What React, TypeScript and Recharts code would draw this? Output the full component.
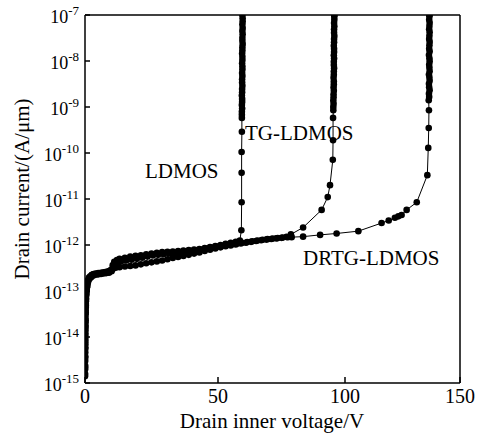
import React from "react";
import {
  LineChart,
  Line,
  XAxis,
  YAxis,
  ReferenceLine,
  Customized,
} from "recharts";

// drain current (A/um) vs drain inner voltage (V)
const ldmos: [number, number][] = [
  [0, 1.5e-15], [0.05, 2.2e-15], [0.08, 3.5e-15], [0.1, 5.5e-15], [0.12, 8e-15],
  [0.15, 1.2e-14], [0.18, 1.8e-14], [0.2, 2.6e-14], [0.25, 3.8e-14], [0.3, 5.2e-14],
  [0.35, 7e-14], [0.45, 9e-14], [0.6, 1.15e-13], [0.8, 1.4e-13], [1.1, 1.7e-13],
  [1.5, 1.95e-13], [2.0, 2.1e-13], [2.6, 2.25e-13], [3.3, 2.35e-13], [4.0, 2.4e-13],
  [5, 2.45e-13], [6, 2.5e-13], [7, 2.55e-13], [8, 2.6e-13], [9, 2.7e-13],
  [9.8, 2.9e-13], [10.4, 3.6e-13], [11, 4.3e-13], [12, 4.7e-13], [13, 5.0e-13],
  [15, 5.3e-13], [17, 5.6e-13], [19, 5.8e-13], [21, 6.0e-13], [23, 6.3e-13],
  [25, 6.5e-13], [27, 6.8e-13], [29, 7.0e-13], [31, 7.1e-13], [33, 7.2e-13],
  [35, 7.4e-13], [37, 7.6e-13], [39, 7.8e-13], [41, 8.0e-13], [43, 8.2e-13],
  [45, 8.6e-13], [47, 9.0e-13], [49, 9.5e-13], [51, 1.0e-12], [53, 1.06e-12],
  [55, 1.12e-12], [57, 1.18e-12], [58.6, 1.25e-12], [59.2, 2.1e-12], [59.3, 8.5e-12],
  [59.3, 3.7e-11], [59.3, 1.05e-10], [59.4, 2.9e-10], [59.4, 5.8e-10],
  [59.4, 6.8e-10], [59.4, 7.9e-10], [59.5, 9.3e-10], [59.4, 1.1e-9], [59.5, 1.29e-9],
  [59.5, 1.5e-9], [59.4, 1.78e-9], [59.5, 2.1e-9], [59.5, 2.45e-9], [59.6, 2.9e-9],
  [59.5, 3.4e-9], [59.5, 4.0e-9], [59.6, 4.7e-9], [59.5, 5.5e-9], [59.6, 6.5e-9],
  [59.6, 7.6e-9], [59.5, 8.9e-9], [59.6, 1.05e-8], [59.6, 1.23e-8], [59.5, 1.45e-8],
  [59.6, 1.7e-8], [59.6, 2.0e-8], [59.7, 2.35e-8], [59.6, 2.75e-8], [59.6, 3.2e-8],
  [59.7, 3.8e-8], [59.6, 4.5e-8], [59.7, 5.2e-8], [59.6, 6.2e-8], [59.7, 7.2e-8],
  [59.7, 8.5e-8], [59.6, 1.0e-7],
];

const tgLdmos: [number, number][] = [
  [0, 1.4e-15], [0.04, 2.0e-15], [0.07, 3.0e-15], [0.1, 4.6e-15], [0.13, 7e-15],
  [0.16, 1.05e-14], [0.19, 1.6e-14], [0.22, 2.3e-14], [0.27, 3.4e-14], [0.32, 4.8e-14],
  [0.38, 6.5e-14], [0.5, 8.5e-14], [0.65, 1.05e-13], [0.9, 1.3e-13], [1.2, 1.6e-13],
  [1.7, 1.85e-13], [2.3, 2.0e-13], [3.0, 2.15e-13], [4, 2.25e-13], [5, 2.3e-13],
  [6, 2.35e-13], [7, 2.4e-13], [8, 2.45e-13], [9, 2.5e-13], [10, 2.7e-13],
  [10.7, 3.1e-13], [11.5, 3.2e-13], [13, 3.3e-13], [15, 3.4e-13], [17, 3.5e-13],
  [19, 3.6e-13], [21, 3.8e-13], [23, 4.0e-13], [25, 4.2e-13], [27, 4.4e-13],
  [29, 4.6e-13], [31, 4.9e-13], [33, 5.2e-13], [35, 5.5e-13], [37, 5.8e-13],
  [39, 6.1e-13], [41, 6.5e-13], [43, 6.9e-13], [45, 7.4e-13], [47, 7.9e-13],
  [49, 8.4e-13], [51, 8.9e-13], [53, 9.4e-13], [55, 9.8e-13], [57, 1.03e-12],
  [59, 1.08e-12], [61, 1.12e-12], [63, 1.17e-12], [65, 1.22e-12], [67, 1.27e-12],
  [69, 1.31e-12], [71, 1.35e-12], [73, 1.39e-12], [75, 1.43e-12], [77, 1.5e-12],
  [78.7, 1.7e-12], [83.5, 2.4e-12], [90.8, 5.8e-12], [93.2, 1.1e-11], [94.1, 2.0e-11],
  [95.2, 7.1e-11], [95.3, 1.9e-10], [95.3, 5.8e-10],
  [95.4, 8.5e-10], [95.4, 1.0e-9], [95.5, 1.17e-9], [95.4, 1.38e-9], [95.5, 1.62e-9],
  [95.5, 1.9e-9], [95.6, 2.25e-9], [95.5, 2.65e-9], [95.6, 3.1e-9], [95.6, 3.6e-9],
  [95.5, 4.3e-9], [95.6, 5.0e-9], [95.6, 5.9e-9], [95.7, 7.0e-9], [95.6, 8.2e-9],
  [95.6, 9.6e-9], [95.7, 1.13e-8], [95.6, 1.33e-8], [95.7, 1.56e-8], [95.7, 1.84e-8],
  [95.6, 2.15e-8], [95.7, 2.55e-8], [95.7, 3.0e-8], [95.8, 3.5e-8], [95.7, 4.1e-8],
  [95.7, 4.85e-8], [95.8, 5.7e-8], [95.7, 6.7e-8], [95.8, 7.9e-8], [95.8, 9.2e-8],
  [95.8, 1.0e-7],
];

const drtgLdmos: [number, number][] = [
  [0, 1.6e-15], [0.06, 2.4e-15], [0.09, 3.8e-15], [0.11, 6e-15], [0.14, 9e-15],
  [0.17, 1.4e-14], [0.2, 2.1e-14], [0.24, 3.1e-14], [0.29, 4.4e-14], [0.34, 6e-14],
  [0.42, 7.8e-14], [0.55, 9.8e-14], [0.75, 1.2e-13], [1.0, 1.5e-13], [1.4, 1.8e-13],
  [1.9, 2.0e-13], [2.5, 2.2e-13], [3.2, 2.3e-13], [4.2, 2.35e-13], [5.2, 2.4e-13],
  [6.2, 2.45e-13], [7.2, 2.5e-13], [8.2, 2.55e-13], [9.2, 2.6e-13], [10.1, 2.9e-13],
  [10.8, 3.8e-13], [11.8, 4.2e-13], [13.5, 4.4e-13], [15.5, 4.6e-13], [17.5, 4.8e-13],
  [19.5, 5.0e-13], [21.5, 5.3e-13], [23.5, 5.6e-13], [25.5, 5.9e-13], [27.5, 6.1e-13],
  [29.5, 6.3e-13], [31.5, 6.5e-13], [33.5, 6.7e-13], [35.5, 6.9e-13], [37.5, 7.1e-13],
  [39.5, 7.4e-13], [41.5, 7.7e-13], [43.5, 8.0e-13], [45.5, 8.4e-13], [47.5, 8.8e-13],
  [49.5, 9.2e-13], [51.5, 9.6e-13], [53.5, 1.0e-12], [55.5, 1.04e-12], [57.5, 1.08e-12],
  [59.5, 1.12e-12], [61.5, 1.16e-12], [63.5, 1.2e-12], [65.5, 1.25e-12], [67.5, 1.3e-12],
  [69.5, 1.34e-12], [71.5, 1.38e-12], [73.5, 1.42e-12], [75.5, 1.45e-12], [77.5, 1.47e-12],
  [79, 1.48e-12], [83.5, 1.52e-12], [90.2, 1.66e-12], [96.7, 1.78e-12], [105.8, 2.0e-12],
  [115.9, 3.0e-12], [119, 3.4e-12], [121.7, 3.9e-12], [123.2, 4.2e-12], [124.6, 4.5e-12],
  [126.8, 5.8e-12], [131.2, 8.5e-12], [135.8, 3.3e-11], [136.2, 1.29e-10], [136.4, 3.5e-10],
  [136.5, 8.5e-10], [136.4, 1.4e-9],
  [136.6, 1.66e-9], [136.5, 1.95e-9], [136.8, 2.3e-9], [136.6, 2.7e-9], [136.5, 3.2e-9],
  [136.8, 3.7e-9], [136.7, 4.4e-9], [136.5, 5.1e-9], [136.8, 6.0e-9], [136.7, 7.1e-9],
  [136.6, 8.3e-9], [136.8, 9.8e-9], [136.7, 1.15e-8], [136.5, 1.35e-8], [136.8, 1.6e-8],
  [136.6, 1.85e-8], [136.7, 2.2e-8], [136.8, 2.6e-8], [136.6, 3.0e-8], [136.7, 3.55e-8],
  [136.8, 4.2e-8], [136.6, 4.9e-8], [136.7, 5.75e-8], [136.8, 6.8e-8], [136.6, 7.9e-8],
  [136.7, 9.3e-8], [136.7, 1.0e-7],
];

const xTicks = [0, 50, 100, 150];
const yTicks = [1e-15, 1e-14, 1e-13, 1e-12, 1e-11, 1e-10, 1e-9, 1e-8, 1e-7];

const FONT = "Liberation Serif";

// the printed x axis is not evenly spaced, so map 0/50/100/150 onto where the ticks sit
function pieceScale(knots: number[], stops: number[]) {
  let dom = [knots[0], knots[knots.length - 1]];
  let rng = [0, 1];
  const scale: any = (v: number) => {
    let i = 1;
    while (i < knots.length - 1 && v > knots[i]) i++;
    const t = (v - knots[i - 1]) / (knots[i] - knots[i - 1]);
    const f = stops[i - 1] + t * (stops[i] - stops[i - 1]);
    return rng[0] + f * (rng[1] - rng[0]);
  };
  scale.domain = (d?: number[]) => {
    if (!d) return dom.slice();
    dom = d.slice();
    return scale;
  };
  scale.range = (r?: number[]) => {
    if (!r) return rng.slice();
    rng = r.slice();
    return scale;
  };
  scale.copy = () => pieceScale(knots, stops).domain(dom).range(rng);
  scale.ticks = () => knots.slice();
  scale.tickFormat = () => (v: number) => String(v);
  scale.invert = (px: number) => {
    const f = (px - rng[0]) / (rng[1] - rng[0]);
    let i = 1;
    while (i < stops.length - 1 && f > stops[i]) i++;
    const t = (f - stops[i - 1]) / (stops[i] - stops[i - 1]);
    return knots[i - 1] + t * (knots[i] - knots[i - 1]);
  };
  return scale;
}

const xScale = pieceScale(xTicks, [0, 133 / 375, 260 / 375, 1]);

const toRows = (pts: [number, number][]) => pts.map(([v, i]) => ({ v, i }));

function XTick({ x, y, payload }: any) {
  return (
    <g>
      <line x1={x} x2={x} y1={y} y2={y - 6} stroke="#000" strokeWidth={1.5} />
      <text x={x} y={y + 20} textAnchor="middle" fill="#000" style={{ fontFamily: FONT, fontSize: 20 }}>
        {payload.value}
      </text>
    </g>
  );
}

function YTick({ x, y, payload }: any) {
  const exp = Math.round(Math.log10(payload.value));
  return (
    <g>
      <line x1={x + 6} x2={x + 11} y1={y} y2={y} stroke="#000" strokeWidth={1.5} />
      <text x={x} y={y + 7.5} textAnchor="end" fill="#000" style={{ fontFamily: FONT }}>
        <tspan style={{ fontSize: 18 }}>10</tspan>
        <tspan style={{ fontSize: 13 }} dy={-8}>
          {exp}
        </tspan>
      </text>
    </g>
  );
}

function Labels() {
  const t = { fontFamily: FONT, fontSize: 21 };
  return (
    <g fill="#000">
      <text x={272} y={428} textAnchor="middle" style={t}>
        Drain inner voltage/V
      </text>
      <text x={29} y={189} textAnchor="middle" transform="rotate(-90, 29, 189)" style={t}>
        Drain current/(A/μm)
      </text>
      <text x={145} y={178} style={t}>LDMOS</text>
      <text x={245} y={140} style={t}>TG-LDMOS</text>
      <text x={303} y={265} style={t}>DRTG-LDMOS</text>
    </g>
  );
}

const dotStyle = { r: 3.3, fill: "#000", stroke: "#000", strokeWidth: 0 };

export default function App() {
  return (
    <div style={{ position: "absolute", left: 0, top: 0, background: "#fff", fontFamily: FONT }}>
      <LineChart width={485} height={435} margin={{ top: 15, right: 25, bottom: 0, left: 0 }}>
        <XAxis
          dataKey="v"
          type="number"
          domain={[0, 150]}
          ticks={xTicks}
          scale={xScale}
          allowDataOverflow
          interval={0}
          height={52}
          axisLine={{ stroke: "#000", strokeWidth: 1.5 }}
          tickLine={false}
          tickSize={0}
          tickMargin={0}
          tick={<XTick />}
        />
        <YAxis
          dataKey="i"
          type="number"
          scale="log"
          domain={[1e-15, 1e-7]}
          ticks={yTicks}
          allowDataOverflow
          interval={0}
          width={85}
          axisLine={{ stroke: "#000", strokeWidth: 1.5 }}
          tickLine={false}
          tickSize={0}
          tickMargin={6}
          tick={<YTick />}
        />
        <ReferenceLine y={1e-7} stroke="#000" strokeWidth={1.5} ifOverflow="visible" />
        <ReferenceLine x={150} stroke="#000" strokeWidth={1.5} ifOverflow="visible" />
        <Line
          data={toRows(ldmos)}
          dataKey="i"
          type="linear"
          stroke="#000"
          strokeWidth={1}
          dot={dotStyle}
          isAnimationActive={false}
        />
        <Line
          data={toRows(tgLdmos)}
          dataKey="i"
          type="linear"
          stroke="#000"
          strokeWidth={1}
          dot={dotStyle}
          isAnimationActive={false}
        />
        <Line
          data={toRows(drtgLdmos)}
          dataKey="i"
          type="linear"
          stroke="#000"
          strokeWidth={1}
          dot={dotStyle}
          isAnimationActive={false}
        />
        <Customized component={Labels} />
      </LineChart>
    </div>
  );
}
